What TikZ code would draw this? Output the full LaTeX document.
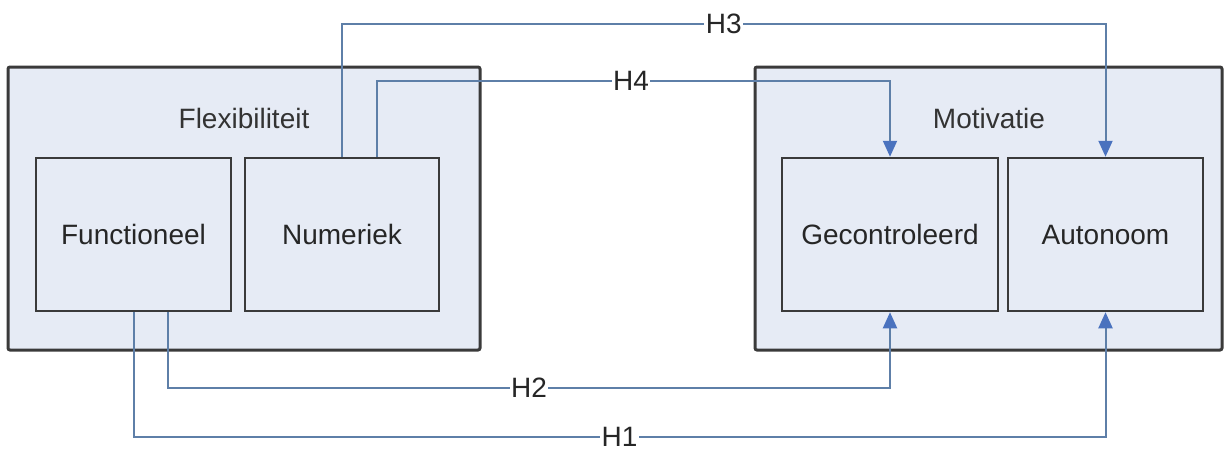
\documentclass[tikz,border=0pt]{standalone}
\usepackage{fontspec}
\setmainfont{Liberation Sans}
\usetikzlibrary{arrows.meta,calc}
\definecolor{boxfill}{HTML}{E6EBF5}
\definecolor{boxline}{HTML}{3A3A3A}
\definecolor{connline}{HTML}{5E7FA8}
\definecolor{tipblue}{HTML}{4A72BE}
\begin{document}
\begin{tikzpicture}[x=1pt,y=-1pt,
  outerbox/.style={draw=boxline,fill=boxfill,line width=3pt,rounded corners=2pt,inner sep=0pt,minimum height=283pt},
  innerbox/.style={draw=boxline,fill=boxfill,line width=2.5pt,inner sep=0pt,minimum height=153pt,
    font=\fontsize{28}{34}\selectfont,text=black!85},
  title/.style={font=\fontsize{28}{34}\selectfont,text=black!80,inner sep=0pt},
  conn/.style={draw=connline,line width=2pt},
  arr/.style={conn,-{Triangle[length=16pt,width=14pt,color=tipblue]}},
  hlbl/.style={fill=white,inner sep=1.5pt,font=\fontsize{28}{34}\selectfont,text=black!85}]
\useasboundingbox (0,0) rectangle (1225,450);
% outer boxes
\node[outerbox,minimum width=472pt] (flex) at (244,208.5) {};
\node[outerbox,minimum width=467pt] (moti) at (988.5,208.5) {};
\node[title] (flextitle) at (244,118) {Flexibiliteit};
\node[title] (motititle) at (989,118) {Motivatie};
% inner boxes
\node[innerbox,minimum width=195pt] (func) at (133.5,234.5) {Functioneel};
\node[innerbox,minimum width=194pt] (num) at (342,234.5) {Numeriek};
\node[innerbox,minimum width=216pt] (gec) at (890,234.5) {Gecontroleerd};
\node[innerbox,minimum width=195pt] (auto) at (1105.5,234.5) {Autonoom};
% connector anchors
\coordinate (h4s) at ($(num.north)+(35,0)$);
\coordinate (h2s) at ($(func.south)+(34.5,0)$);
\coordinate (h3y) at (0,24);
\coordinate (h4y) at (0,81);
\coordinate (h2y) at (0,388);
\coordinate (h1y) at (0,437);
% H3
\draw[arr] (num.north) -- (num.north |- h3y) -- node[hlbl,pos=0.5] (lh3) {H3} (auto.north |- h3y) -- (auto.north);
% H4
\draw[arr] (h4s) -- (h4s |- h4y) -- node[hlbl,pos=0.495] (lh4) {H4} (gec.north |- h4y) -- (gec.north);
% H2
\draw[arr] (h2s) -- (h2s |- h2y) -- node[hlbl,pos=0.5] (lh2) {H2} (gec.south |- h2y) -- (gec.south);
% H1
\draw[arr] (func.south) -- (func.south |- h1y) -- node[hlbl,pos=0.5] (lh1) {H1} (auto.south |- h1y) -- (auto.south);
\end{tikzpicture}
\end{document}
